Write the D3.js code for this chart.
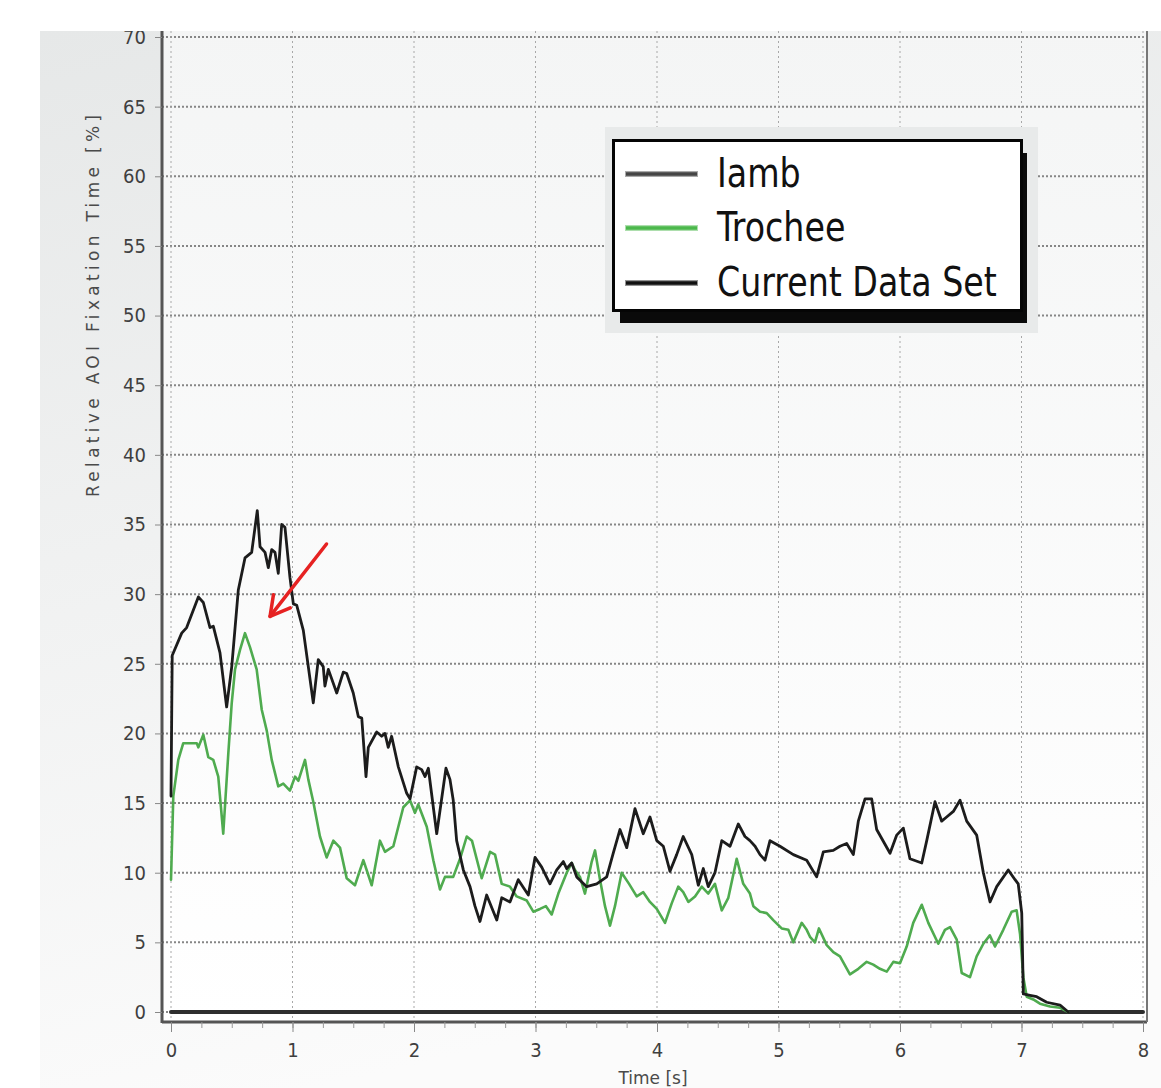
<!DOCTYPE html>
<html>
<head>
<meta charset="utf-8">
<script src="https://cdn.jsdelivr.net/npm/d3@7"></script>
<style>
  html, body { margin: 0; padding: 0; background: #ffffff; }
  svg { display: block; }
</style>
</head>
<body>
<svg id="chart" width="1161" height="1088"></svg>
<script>
// ---- data: relative AOI fixation time [%] over time [s] ----
const iambTime = [0.0, 0.01, 0.088, 0.129, 0.225, 0.266, 0.321, 0.348, 0.403, 0.458, 0.5, 0.554, 0.609, 0.664, 0.71, 0.733,
  0.774, 0.801, 0.829, 0.856, 0.883, 0.911, 0.938, 0.979, 1.007, 1.035, 1.089, 1.171, 1.212, 1.253, 1.267, 1.295, 1.364,
  1.418, 1.446, 1.5, 1.542, 1.57, 1.605, 1.624, 1.693, 1.734, 1.761, 1.788, 1.816, 1.871, 1.94, 1.967, 2.022, 2.063, 2.091,
  2.118, 2.187, 2.263, 2.296, 2.323, 2.351, 2.406, 2.461, 2.502, 2.543, 2.598, 2.681, 2.722, 2.79, 2.858, 2.941, 2.996,
  3.051, 3.119, 3.175, 3.229, 3.257, 3.298, 3.339, 3.421, 3.504, 3.586, 3.64, 3.695, 3.751, 3.819, 3.887, 3.942, 3.998,
  4.052, 4.107, 4.162, 4.216, 4.286, 4.34, 4.381, 4.422, 4.477, 4.533, 4.601, 4.669, 4.724, 4.765, 4.807, 4.848, 4.889,
  4.93, 5.012, 5.122, 5.232, 5.314, 5.369, 5.451, 5.506, 5.561, 5.616, 5.657, 5.712, 5.767, 5.808, 5.918, 5.973, 6.027,
  6.082, 6.179, 6.22, 6.288, 6.343, 6.384, 6.439, 6.494, 6.549, 6.631, 6.686, 6.741, 6.796, 6.891, 6.947, 6.973, 7.002,
  7.015, 7.07, 7.125, 7.207, 7.317, 7.385];
const iambValue = [15.5, 25.6, 27.2, 27.6, 29.8, 29.4, 27.6, 27.7, 25.8, 21.9, 24.8, 30.3, 32.6, 33.0, 36.0, 33.4,
  33.0, 31.9, 33.2, 33.0, 31.5, 35.0, 34.8, 31.2, 29.3, 29.2, 27.4, 22.2, 25.3, 24.8, 23.4, 24.6, 22.9,
  24.4, 24.3, 22.9, 21.2, 21.1, 16.9, 19.0, 20.1, 19.8, 20.0, 19.0, 19.8, 17.6, 15.7, 15.3, 17.6, 17.4, 16.9,
  17.5, 12.8, 17.5, 16.7, 15.2, 12.3, 10.2, 9.0, 7.6, 6.5, 8.4, 6.6, 8.2, 7.9, 9.5, 8.4, 11.1,
  10.4, 9.2, 10.2, 10.8, 10.3, 10.7, 9.7, 9.0, 9.2, 9.7, 11.4, 13.1, 11.8, 14.6, 12.8, 14.0, 12.3,
  11.9, 10.1, 11.3, 12.6, 11.3, 9.1, 10.3, 9.0, 10.0, 12.3, 11.9, 13.5, 12.6, 12.3, 11.9, 11.3, 10.9,
  12.3, 11.9, 11.3, 10.9, 9.7, 11.5, 11.6, 11.9, 12.1, 11.3, 13.7, 15.3, 15.3, 13.1, 11.4, 12.7, 13.2,
  11.0, 10.7, 12.3, 15.1, 13.7, 14.0, 14.4, 15.2, 13.7, 12.7, 10.0, 7.9, 9.0, 10.2, 9.5, 9.2, 7.1,
  1.3, 1.2, 1.1, 0.7, 0.5, 0.0];

const trocheeTime = [0.0, 0.019, 0.06, 0.101, 0.212, 0.225, 0.266, 0.307, 0.348, 0.389, 0.43, 0.472, 0.5, 0.527, 0.568,
  0.609, 0.65, 0.705, 0.747, 0.788, 0.829, 0.883, 0.924, 0.979, 1.021, 1.048, 1.103, 1.13, 1.171, 1.226, 1.281, 1.336,
  1.391, 1.446, 1.514, 1.583, 1.652, 1.72, 1.761, 1.83, 1.912, 1.967, 2.008, 2.035, 2.105, 2.159, 2.214, 2.255, 2.323,
  2.379, 2.434, 2.477, 2.557, 2.626, 2.667, 2.722, 2.79, 2.845, 2.928, 2.982, 3.037, 3.086, 3.133, 3.188, 3.257, 3.298,
  3.325, 3.366, 3.407, 3.463, 3.49, 3.531, 3.572, 3.613, 3.654, 3.709, 3.77, 3.833, 3.887, 3.942, 3.998, 4.066, 4.121,
  4.175, 4.216, 4.258, 4.313, 4.368, 4.422, 4.477, 4.533, 4.587, 4.656, 4.71, 4.765, 4.793, 4.848, 4.903, 4.957, 5.026,
  5.081, 5.122, 5.191, 5.232, 5.259, 5.3, 5.333, 5.397, 5.451, 5.506, 5.588, 5.657, 5.726, 5.78, 5.835, 5.891, 5.945,
  6.0, 6.055, 6.109, 6.179, 6.233, 6.315, 6.37, 6.412, 6.467, 6.508, 6.576, 6.631, 6.686, 6.739, 6.782, 6.85, 6.919,
  6.96, 6.988, 7.015, 7.043, 7.097, 7.152, 7.235, 7.317, 7.385];
const trocheeValue = [9.5, 15.5, 18.1, 19.3, 19.3, 19.0, 19.9, 18.3, 18.1, 16.9, 12.8, 18.6, 22.2, 24.6, 26.0,
  27.2, 26.2, 24.6, 21.7, 20.2, 18.1, 16.2, 16.4, 15.9, 16.9, 16.6, 18.1, 16.7, 15.1, 12.6, 11.1, 12.3,
  11.8, 9.6, 9.1, 10.9, 9.1, 12.3, 11.5, 11.9, 14.7, 15.2, 14.3, 14.9, 13.3, 10.9, 8.8, 9.7, 9.7,
  11.0, 12.6, 12.3, 9.6, 11.5, 11.3, 9.2, 9.0, 8.3, 8.0, 7.2, 7.4, 7.6, 7.0, 8.5, 10.0, 10.7,
  10.2, 9.7, 8.5, 10.8, 11.6, 9.5, 7.6, 6.2, 7.6, 10.0, 9.2, 8.3, 8.6, 7.9, 7.4, 6.4, 7.8,
  9.0, 8.6, 7.9, 8.3, 9.0, 8.5, 9.2, 7.3, 8.2, 11.0, 9.2, 8.5, 7.6, 7.2, 7.1, 6.6, 6.0,
  5.9, 5.0, 6.4, 5.9, 5.4, 5.0, 6.0, 4.8, 4.3, 4.0, 2.7, 3.1, 3.6, 3.4, 3.1, 2.9, 3.6,
  3.5, 4.7, 6.4, 7.7, 6.4, 4.9, 5.9, 6.1, 5.2, 2.8, 2.5, 4.0, 4.9, 5.5, 4.7, 5.9, 7.2,
  7.3, 5.6, 2.5, 1.1, 0.9, 0.6, 0.4, 0.3, 0.0];

const currentTime = [0, 8];
const currentValue = [0, 0];

const seriesNames = ["Iamb", "Trochee", "Current Data Set"];
const xTickValues = [0, 1, 2, 3, 4, 5, 6, 7, 8];
const yTickValues = [0, 5, 10, 15, 20, 25, 30, 35, 40, 45, 50, 55, 60, 65, 70];
const xTitle = "Time [s]";
const yTitle = "Relative AOI Fixation Time [%]";
// annotation arrow: tail and head, in (time, percent)
const arrowTail = [1.28, 33.6];
const arrowHead = [0.815, 28.4];

// ---- layout ----
const W = 1161, H = 1088;
const svg = d3.select("#chart");
const defs = svg.append("defs");

const x = d3.scaleLinear().domain([0, 8]).range([171, 1143]);
const y = d3.scaleLinear().domain([0, 70]).range([1012, 37]);

const frame = { left: 162, right: 1147, top: 31, bottom: 1022 };
const panel = { left: 40, top: 31, right: W, bottom: H };

defs.append("clipPath").attr("id", "panelClip")
  .append("rect").attr("x", panel.left).attr("y", panel.top)
  .attr("width", panel.right - panel.left).attr("height", panel.bottom - panel.top);

const pg = defs.append("linearGradient").attr("id", "panelGrad")
  .attr("x1", 0).attr("y1", 0).attr("x2", 0.25).attr("y2", 1);
pg.append("stop").attr("offset", "0%").attr("stop-color", "#e6e8e8");
pg.append("stop").attr("offset", "100%").attr("stop-color", "#fbfbfb");

const ag = defs.append("linearGradient").attr("id", "plotGrad")
  .attr("x1", 0).attr("y1", 0).attr("x2", 0).attr("y2", 1);
ag.append("stop").attr("offset", "0%").attr("stop-color", "#f4f5f5");
ag.append("stop").attr("offset", "100%").attr("stop-color", "#ffffff");

const root = svg.append("g").attr("clip-path", "url(#panelClip)");

root.append("rect")
  .attr("x", panel.left).attr("y", panel.top)
  .attr("width", panel.right - panel.left).attr("height", panel.bottom - panel.top)
  .attr("fill", "url(#panelGrad)");

root.append("rect")
  .attr("x", frame.left).attr("y", frame.top - 10)
  .attr("width", frame.right - frame.left).attr("height", frame.bottom - frame.top + 10)
  .attr("fill", "url(#plotGrad)");

// ---- grid ----
const grid = root.append("g");
grid.selectAll("line.hg").data(yTickValues).join("line")
  .attr("class", "hg")
  .attr("x1", frame.left).attr("x2", frame.right)
  .attr("y1", d => y(d)).attr("y2", d => y(d))
  .attr("stroke", "#868686").attr("stroke-width", 2)
  .attr("stroke-dasharray", "2,2");
grid.selectAll("line.vg").data(xTickValues).join("line")
  .attr("class", "vg")
  .attr("x1", d => x(d)).attr("x2", d => x(d))
  .attr("y1", frame.top - 10).attr("y2", frame.bottom)
  .attr("stroke", "#a8a8a8").attr("stroke-width", 1)
  .attr("stroke-dasharray", "2,3");

// ---- series ----
const line = d3.line().x(d => x(d[0])).y(d => y(d[1]));
const zip = (t, v) => t.map((d, i) => [d, v[i]]);

const series = [
  { name: seriesNames[0], pts: zip(iambTime, iambValue), color: "#1c1c1c", width: 2.8, legendColor: "#454545" },
  { name: seriesNames[1], pts: zip(trocheeTime, trocheeValue), color: "#4fab4f", width: 2.6, legendColor: "#4cb84c" },
  { name: seriesNames[2], pts: zip(currentTime, currentValue), color: "#2e2e2e", width: 4, legendColor: "#111111" }
];

const plot = root.append("g");
// draw the constant data set first, then trochee, then iamb on top
[series[2], series[1], series[0]].forEach(s => {
  plot.append("path")
    .datum(s.pts)
    .attr("d", line)
    .attr("fill", "none")
    .attr("stroke", s.color)
    .attr("stroke-width", s.width)
    .attr("stroke-linejoin", "round")
    .attr("stroke-linecap", "round");
});

// ---- frame / axes ----
const axisCol = "#555555";
root.append("line").attr("x1", frame.left).attr("x2", frame.left)
  .attr("y1", frame.top - 10).attr("y2", frame.bottom + 1)
  .attr("stroke", axisCol).attr("stroke-width", 3);
root.append("line").attr("x1", frame.left).attr("x2", frame.right)
  .attr("y1", frame.bottom).attr("y2", frame.bottom)
  .attr("stroke", axisCol).attr("stroke-width", 3);
root.append("line").attr("x1", frame.right).attr("x2", frame.right)
  .attr("y1", frame.top - 10).attr("y2", frame.bottom)
  .attr("stroke", "#777").attr("stroke-width", 2);

const tickFont = "'DejaVu Sans Condensed', 'DejaVu Sans', sans-serif";

const yAxis = root.append("g")
  .attr("transform", `translate(${frame.left},0)`)
  .call(d3.axisLeft(y).tickValues(yTickValues).tickSize(7).tickPadding(9).tickFormat(d3.format("d")));
yAxis.select(".domain").remove();
yAxis.selectAll(".tick line").attr("stroke", "#888").attr("stroke-width", 1);
yAxis.selectAll("text").attr("font-family", tickFont).attr("font-size", 20).attr("fill", "#3f3f3f");

const xMinor = root.append("g")
  .attr("transform", `translate(0,${frame.bottom})`)
  .call(d3.axisBottom(x).tickValues(d3.range(0, 32).map(i => i / 4)).tickSize(6).tickFormat(""));
xMinor.select(".domain").remove();
xMinor.selectAll(".tick line").attr("stroke", "#999").attr("stroke-width", 1);

const xAxis = root.append("g")
  .attr("transform", `translate(0,${frame.bottom})`)
  .call(d3.axisBottom(x).tickValues(xTickValues).tickSize(10).tickPadding(11).tickFormat(d3.format("d")));
xAxis.select(".domain").remove();
xAxis.selectAll(".tick line").attr("stroke", "#888").attr("stroke-width", 1);
xAxis.selectAll("text").attr("font-family", tickFont).attr("font-size", 20).attr("fill", "#3f3f3f");

// axis titles
root.append("text")
  .attr("transform", "translate(99,306) rotate(-90)")
  .attr("text-anchor", "middle")
  .attr("font-family", "'DejaVu Sans', Verdana, sans-serif")
  .attr("font-size", 17)
  .attr("fill", "#4a4a4a")
  .attr("textLength", 382)
  .attr("lengthAdjust", "spacing")
  .text(yTitle);

root.append("text")
  .attr("x", 653).attr("y", 1084)
  .attr("text-anchor", "middle")
  .attr("font-family", "'DejaVu Sans', Verdana, sans-serif")
  .attr("font-size", 17)
  .attr("fill", "#4a4a4a")
  .text(xTitle);

// ---- legend ----
const lg = root.append("g");
lg.append("rect").attr("x", 605).attr("y", 127).attr("width", 433).attr("height", 206).attr("fill", "#e8eaea");
lg.append("rect").attr("x", 620).attr("y", 153).attr("width", 407).attr("height", 170).attr("fill", "#0a0a0a");
lg.append("rect").attr("x", 613.5).attr("y", 140.5).attr("width", 408).attr("height", 170)
  .attr("fill", "#ffffff").attr("stroke", "#050505").attr("stroke-width", 3);

const legendRows = [174, 228, 283];
const items = lg.selectAll("g.item").data(series).join("g").attr("class", "item");
items.append("line")
  .attr("x1", 625).attr("x2", 698)
  .attr("y1", (d, i) => legendRows[i]).attr("y2", (d, i) => legendRows[i])
  .attr("stroke", d => d.legendColor).attr("stroke-width", 6).attr("opacity", 0.45);
items.append("line")
  .attr("x1", 626).attr("x2", 697)
  .attr("y1", (d, i) => legendRows[i]).attr("y2", (d, i) => legendRows[i])
  .attr("stroke", d => d.legendColor).attr("stroke-width", 3.5);
const lt = items.append("text")
  .attr("font-family", tickFont)
  .attr("font-size", 40)
  .attr("fill", "#111")
  .text(d => d.name);
// fit the legend labels to a fixed column width
let longest = 0;
lt.each(function () { longest = Math.max(longest, this.getComputedTextLength()); });
const sx = 280 / longest;
lt.attr("transform", (d, i) => `translate(717,${legendRows[i] + 13}) scale(${sx},1)`);

// ---- annotation arrow ----
const tx = x(arrowTail[0]), ty = y(arrowTail[1]);
const hx = x(arrowHead[0]), hy = y(arrowHead[1]);
const ang = Math.atan2(ty - hy, tx - hx);
const barb = 22, spread = 29 * Math.PI / 180;
const b1 = [hx + barb * Math.cos(ang - spread), hy + barb * Math.sin(ang - spread)];
const b2 = [hx + barb * Math.cos(ang + spread), hy + barb * Math.sin(ang + spread)];
const arrow = root.append("g").attr("stroke", "#e62222").attr("stroke-width", 3.5)
  .attr("fill", "none").attr("stroke-linecap", "round").attr("stroke-linejoin", "round");
arrow.append("line").attr("x1", tx).attr("y1", ty).attr("x2", hx).attr("y2", hy);
arrow.append("path").attr("d", `M${b1[0]},${b1[1]}L${hx},${hy}L${b2[0]},${b2[1]}`);
</script>
</body>
</html>
